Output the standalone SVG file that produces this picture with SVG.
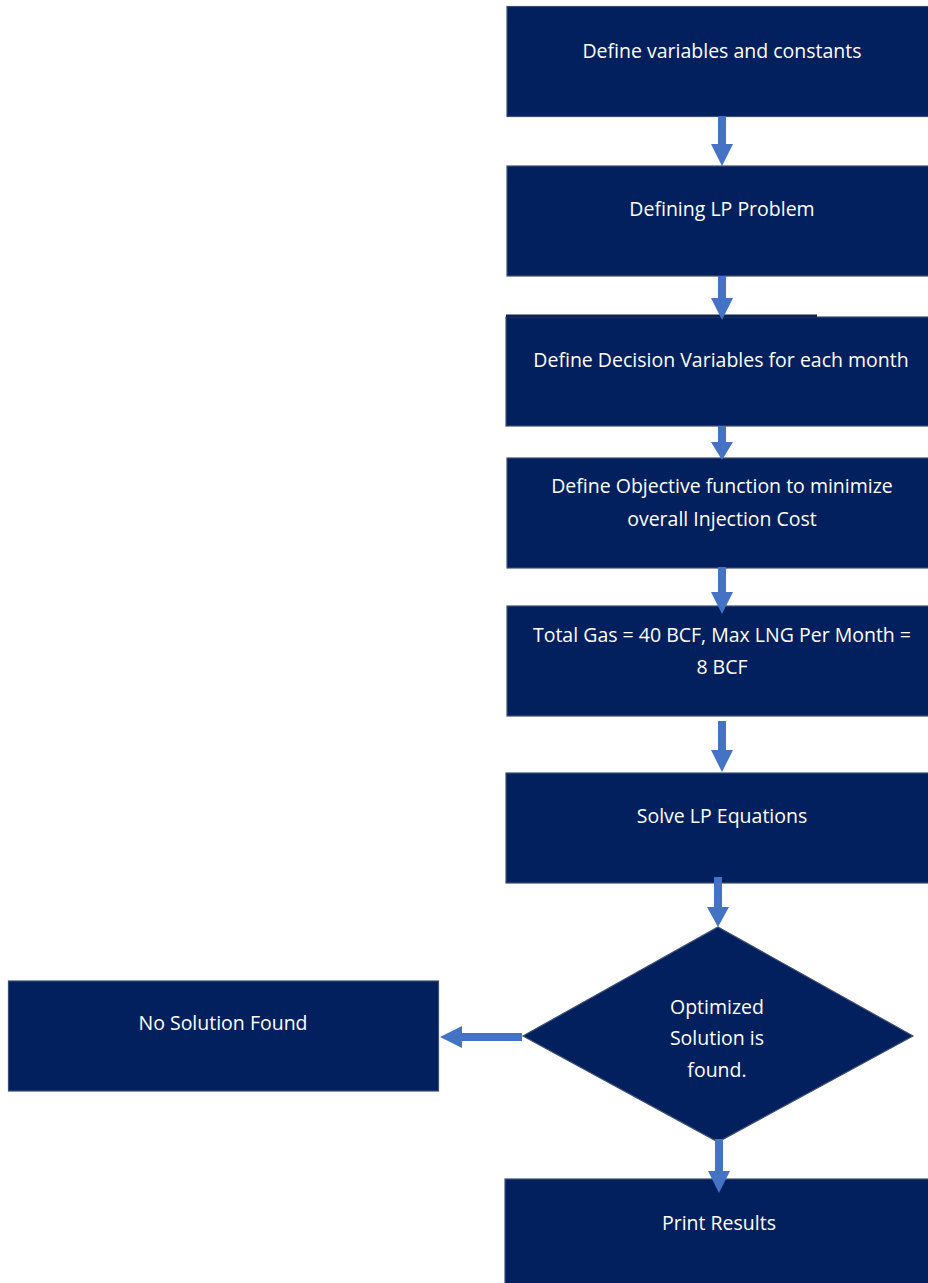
<svg xmlns="http://www.w3.org/2000/svg" width="928" height="1283" viewBox="0 0 928 1283">
<style>
.box{fill:#03205E;stroke:#3B4E74;stroke-width:1.2}
.t{font-family:"Open Sans","Liberation Sans",sans-serif;font-size:19.5px;fill:#FFFFFF;text-anchor:middle}
.arr{fill:#4472C4}
</style>
<rect width="928" height="1283" fill="#FFFFFF"/>
<g id="n1"><rect class="box" x="507" y="6.5" width="440" height="110"/><text class="t" x="722" y="58">Define variables and constants</text></g>
<g id="n2"><rect class="box" x="507" y="166" width="440" height="110"/><text class="t" x="722" y="216">Defining LP Problem</text></g>
<g id="n3"><rect class="box" x="506" y="317" width="440" height="109"/><rect x="506" y="314.5" width="311" height="3" fill="#0B2350"/><text class="t" x="721" y="367">Define Decision Variables for each month</text></g>
<g id="n4"><rect class="box" x="507" y="458" width="440" height="110"/><text class="t" x="722" y="493">Define Objective function to minimize</text><text class="t" x="722" y="526">overall Injection Cost</text></g>
<g id="n5"><rect class="box" x="507" y="606" width="440" height="110"/><text class="t" x="722" y="642">Total Gas = 40 BCF, Max LNG Per Month =</text><text class="t" x="722" y="674">8 BCF</text></g>
<g id="n6"><rect class="box" x="506" y="773" width="440" height="110"/><text class="t" x="722" y="823">Solve LP Equations</text></g>
<g id="n7"><polygon class="box" points="718,927 913,1036 718,1142 523,1036"/><text class="t" x="717" y="1014">Optimized</text><text class="t" x="717" y="1045">Solution is</text><text class="t" x="717" y="1077">found.</text></g>
<g id="n8"><rect class="box" x="8.5" y="981" width="430" height="110"/><text class="t" x="223" y="1030">No Solution Found</text></g>
<g id="n9"><rect class="box" x="505" y="1179" width="440" height="120"/><text class="t" x="719" y="1230">Print Results</text></g>
<g id="connectors">
<polygon class="arr" points="718,116 726,116 726,144 733,144 722,166 711,144 718,144"/>
<polygon class="arr" points="718,276 726,276 726,298 733,298 722,320 711,298 718,298"/>
<polygon class="arr" points="718,426 726,426 726,442 733,442 722,460 711,442 718,442"/>
<polygon class="arr" points="718,567 726,567 726,592 733,592 722,614 711,592 718,592"/>
<polygon class="arr" points="718,721 726,721 726,750 733,750 722,772 711,750 718,750"/>
<polygon class="arr" points="714,877 722,877 722,907 729,907 718,927 707,907 714,907"/>
<polygon class="arr" points="715,1139 723,1139 723,1171 730,1171 719,1193 708,1171 715,1171"/>
<polygon class="arr" points="522,1033 522,1041 462,1041 462,1048 440,1037 462,1026 462,1033"/>
</g>
</svg>
